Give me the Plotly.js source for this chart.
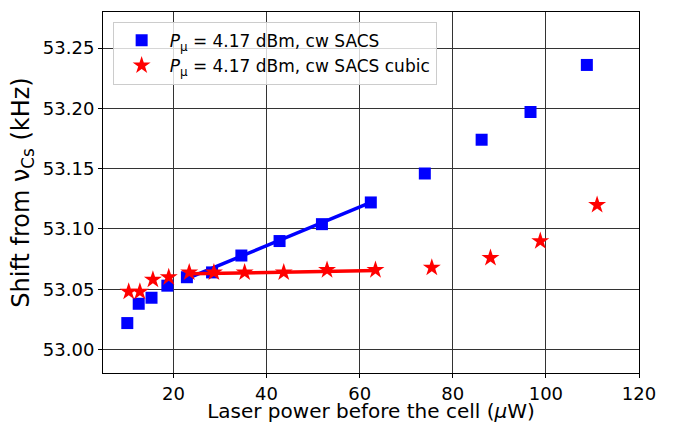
<!DOCTYPE html>
<html>
<head>
<meta charset="utf-8">
<script src="https://cdn.plot.ly/plotly-3.0.1.min.js"></script>
<style>html,body{margin:0;padding:0;background:#fff;}#chart{width:683px;height:423px;}</style>
</head>
<body>
<div id="chart"></div>
<script>
// Data
const sacsPower = [10.1, 12.55, 15.3, 18.7, 22.9, 28.3, 34.6, 42.8, 51.9, 62.4, 74.0, 86.2, 96.7, 108.8];
const sacsShift = [53.022, 53.038, 53.043, 53.053, 53.060, 53.064, 53.078, 53.090, 53.104, 53.122, 53.146, 53.174, 53.197, 53.236];

const cubicPower = [10.4, 12.8, 15.6, 19.0, 23.4, 28.7, 35.3, 43.7, 53.0, 63.4, 75.5, 88.1, 98.8, 111.0];
const cubicShift = [53.048, 53.048, 53.058, 53.060, 53.064, 53.064, 53.064, 53.064, 53.066, 53.066, 53.068, 53.076, 53.090, 53.120];

// Linear fits drawn over the mid-range points
const sacsFitPower = [22.4, 62.4];
const sacsFitShift = [53.058, 53.122];
const cubicFitPower = [23.5, 63.6];
const cubicFitShift = [53.0628, 53.0655];

const xTicks = [20, 40, 60, 80, 100, 120];
const yTicks = [53.00, 53.05, 53.10, 53.15, 53.20, 53.25];
const yTickText = ['53.00', '53.05', '53.10', '53.15', '53.20', '53.25'];

const legendSacs = '<i>P</i><sub>μ</sub> = 4.17 dBm, cw SACS';
const legendCubic = '<i>P</i><sub>μ</sub> = 4.17 dBm, cw SACS cubic';

const traces = [
  {x: sacsPower, y: sacsShift, mode: 'markers', type: 'scatter', name: legendSacs,
   marker: {symbol: 'square', size: 12, color: '#0000ff'}},
  {x: sacsFitPower, y: sacsFitShift, mode: 'lines', type: 'scatter', showlegend: false,
   line: {color: '#0000ff', width: 3.5}},
  {x: cubicPower, y: cubicShift, mode: 'markers', type: 'scatter', name: legendCubic,
   marker: {symbol: 'star', size: 13.5, color: '#ff0000'}},
  {x: cubicFitPower, y: cubicFitShift, mode: 'lines', type: 'scatter', showlegend: false,
   line: {color: '#ff0000', width: 3.5}}
];

const font = 'DejaVu Sans, sans-serif';
const layout = {
  width: 683, height: 423,
  margin: {l: 103, r: 44, t: 12, b: 50},
  paper_bgcolor: '#fff', plot_bgcolor: '#fff',
  font: {family: font, color: '#000', size: 17},
  showlegend: true,
  legend: {x: 0.018, y: 0.973, xanchor: 'left', yanchor: 'top',
    bgcolor: 'rgba(255,255,255,0.8)', bordercolor: '#cccccc', borderwidth: 1,
    itemwidth: 46,
    font: {family: font, size: 17, color: '#000'}, tracegroupgap: 0},
  xaxis: {
    range: [4.88, 120], tickvals: xTicks, ticktext: xTicks.map(String),
    showgrid: true, gridcolor: '#333333', gridwidth: 1,
    zeroline: false, showline: true, linecolor: '#000', linewidth: 1, mirror: true,
    ticks: 'outside', ticklen: 4, tickcolor: '#000',
    tickfont: {family: font, size: 18},
    automargin: false,
    title: {text: 'Laser power before the cell (<i>μ</i>W)', font: {family: font, size: 20}, standoff: 3}
  },
  yaxis: {
    range: [52.9806, 53.2799], tickvals: yTicks, ticktext: yTickText,
    showgrid: true, gridcolor: '#333333', gridwidth: 1,
    zeroline: false, showline: true, linecolor: '#000', linewidth: 1, mirror: true,
    ticks: 'outside', ticklen: 4, tickcolor: '#000',
    tickfont: {family: font, size: 18},
    automargin: false,
    title: {text: 'Shift from ν<sub>Cs</sub> (kHz)', font: {family: font, size: 24}, standoff: 6}
  }
};

Plotly.newPlot('chart', traces, layout, {displayModeBar: false, staticPlot: true});
</script>
</body>
</html>
